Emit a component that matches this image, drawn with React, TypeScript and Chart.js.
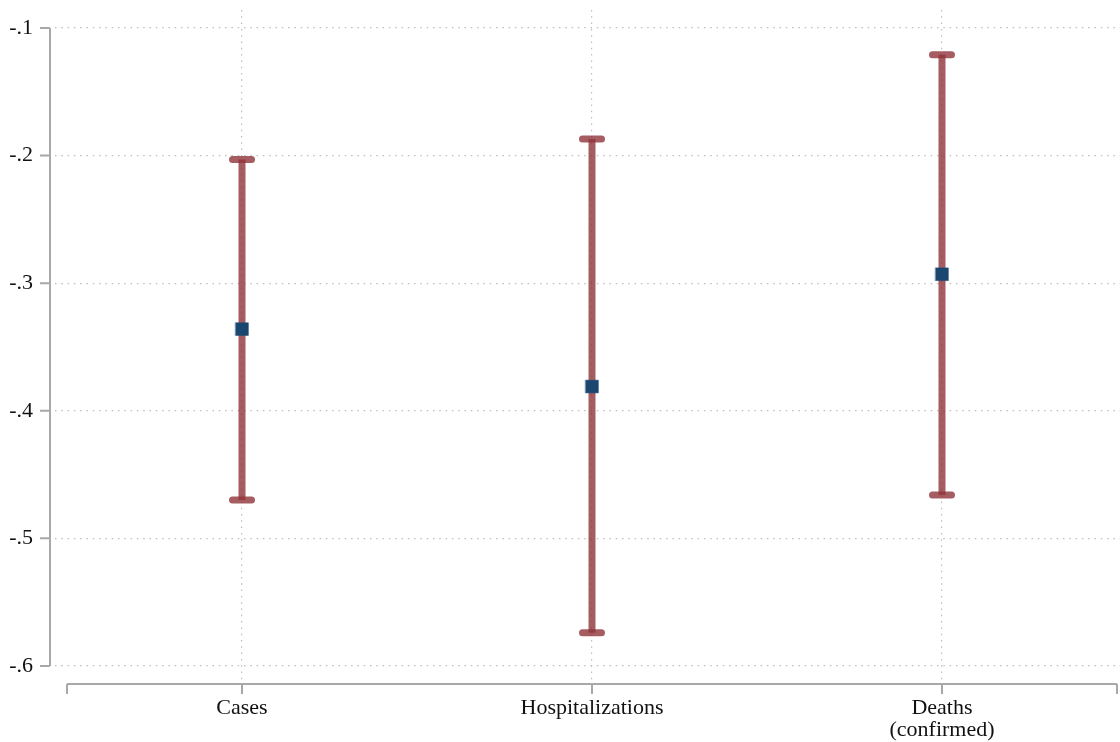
import React, { useEffect, useRef } from "react";
import { Chart, registerables } from "chart.js";

Chart.register(...registerables);

const categories = ["Cases", "Hospitalizations", "Deaths\n(confirmed)"];
const categoryPositions = [1, 2, 3];
const estimates = [-0.336, -0.381, -0.293];
const ciLow = [-0.470, -0.574, -0.466];
const ciHigh = [-0.203, -0.187, -0.121];
const yTickValues = [-0.6, -0.5, -0.4, -0.3, -0.2, -0.1];
const yTickLabels = ["-.6", "-.5", "-.4", "-.3", "-.2", "-.1"];
const xAxisRange = [0.5, 3.5];

const BAR_COLOR = "rgba(144,53,59,0.8)";
const MARKER_COLOR = "#1a476f";
const AXIS_COLOR = "#a8a8a8";
const GRID_COLOR = "#bdbdbd";
const FONT = '22px "Liberation Serif", "Times New Roman", serif';

const axesPlugin = {
  id: "stataAxes",
  beforeDatasetDraw(chart: any) {
    chart.ctx.lineCap = "round";
  },
  afterDatasetDraw(chart: any) {
    chart.ctx.lineCap = "butt";
  },
  afterDraw(chart: any) {
    const ctx = chart.ctx;
    const xs = chart.scales.x;
    const ys = chart.scales.y;
    const area = chart.chartArea;
    ctx.save();
    ctx.strokeStyle = AXIS_COLOR;
    ctx.lineWidth = 2;
    ctx.lineCap = "butt";
    // y axis
    const yAxisX = area.left - 5;
    const yTop = ys.getPixelForValue(yTickValues[yTickValues.length - 1]);
    const yBot = ys.getPixelForValue(yTickValues[0]);
    ctx.beginPath();
    ctx.moveTo(yAxisX, yTop);
    ctx.lineTo(yAxisX, yBot);
    yTickValues.forEach((v) => {
      const py = ys.getPixelForValue(v);
      ctx.moveTo(yAxisX - 10, py);
      ctx.lineTo(yAxisX, py);
    });
    ctx.stroke();
    // x axis
    const xAxisY = area.bottom + 4;
    const xL = xs.getPixelForValue(xAxisRange[0]);
    const xR = xs.getPixelForValue(xAxisRange[1]);
    ctx.beginPath();
    ctx.moveTo(xL, xAxisY);
    ctx.lineTo(xR, xAxisY);
    [xAxisRange[0], ...categoryPositions, xAxisRange[1]].forEach((v) => {
      const px = xs.getPixelForValue(v);
      ctx.moveTo(px, xAxisY);
      ctx.lineTo(px, xAxisY + 10);
    });
    ctx.stroke();
    // labels
    ctx.fillStyle = "#111";
    ctx.font = FONT;
    ctx.textAlign = "right";
    ctx.textBaseline = "middle";
    yTickValues.forEach((v, i) => {
      ctx.fillText(yTickLabels[i], yAxisX - 17, ys.getPixelForValue(v));
    });
    ctx.textAlign = "center";
    ctx.textBaseline = "middle";
    categories.forEach((c, i) => {
      const px = xs.getPixelForValue(categoryPositions[i]);
      c.split("\n").forEach((line, j) => {
        ctx.fillText(line, px, xAxisY + 24 + j * 22);
      });
    });
    ctx.restore();
  },
};

export default function App() {
  const ref = useRef<HTMLCanvasElement | null>(null);
  useEffect(() => {
    if (!ref.current) return;
    const barSets = categoryPositions.map((x, i) => ({
      type: "line" as const,
      data: [
        { x, y: ciLow[i] },
        { x, y: ciHigh[i] },
      ],
      borderColor: BAR_COLOR,
      borderWidth: 7,
      borderCapStyle: "butt" as const,
      pointStyle: "line" as const,
      pointRadius: 9.5,
      pointHoverRadius: 9.5,
      pointBorderWidth: 7,
      pointBorderColor: BAR_COLOR,
      pointBackgroundColor: BAR_COLOR,
      order: 1,
      clip: false as any,
    }));
    const chart = new Chart(ref.current, {
      type: "line",
      data: {
        datasets: [
          {
            data: categoryPositions.map((x, i) => ({ x, y: estimates[i] })),
            showLine: false,
            pointStyle: "rect",
            pointRadius: 9,
            pointHoverRadius: 9,
            pointBackgroundColor: MARKER_COLOR,
            pointBorderColor: MARKER_COLOR,
            pointBorderWidth: 0.5,
            order: 0,
          } as any,
          ...barSets,
        ],
      },
      options: {
        animation: false,
        responsive: false,
        events: [],
        layout: { autoPadding: false, padding: { left: 55, right: 0, top: 10, bottom: 62 } },
        plugins: { legend: { display: false }, tooltip: { enabled: false } },
        scales: {
          x: {
            type: "linear",
            min: 0.4657,
            max: 3.5086,
            afterBuildTicks: (s: any) => {
              s.ticks = categoryPositions.map((v) => ({ value: v }));
            },
            ticks: { display: false },
            border: { display: false, dash: [1.5, 4.8] },
            grid: {
              drawTicks: false,
              color: GRID_COLOR,
              lineWidth: 1.2,
            },
          },
          y: {
            type: "linear",
            min: -0.611,
            max: -0.0859,
            afterBuildTicks: (s: any) => {
              s.ticks = yTickValues.map((v) => ({ value: v }));
            },
            ticks: { display: false },
            border: { display: false, dash: [1.5, 4.8] },
            grid: {
              drawTicks: false,
              color: GRID_COLOR,
              lineWidth: 1.2,
            },
          },
        },
      } as any,
      plugins: [axesPlugin],
    });
    return () => chart.destroy();
  }, []);
  return (
    <div style={{ position: "absolute", left: 0, top: 0, width: 1120, height: 742, background: "#fff" }}>
      <canvas ref={ref} width={1120} height={742} />
    </div>
  );
}
